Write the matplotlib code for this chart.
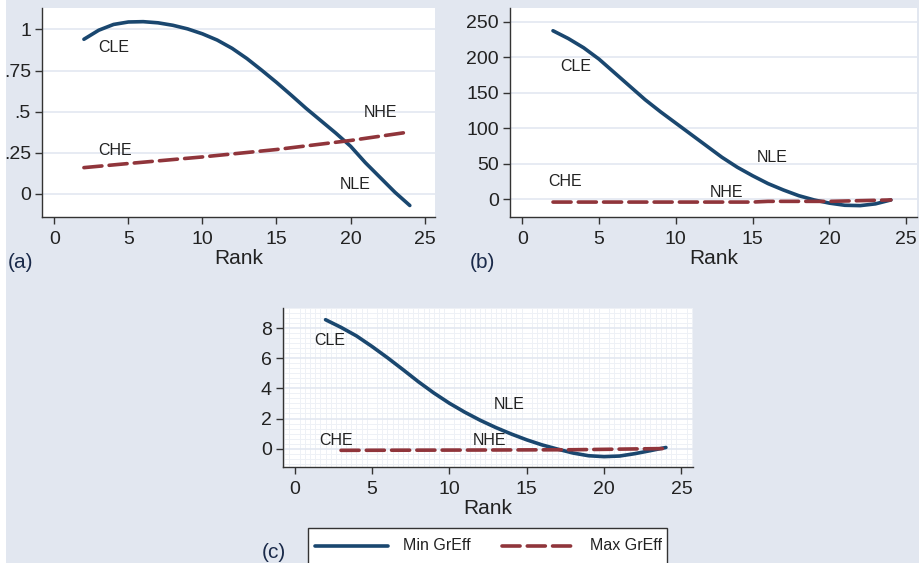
import numpy as np
import matplotlib.pyplot as plt
from matplotlib.ticker import MultipleLocator
from matplotlib.lines import Line2D
from matplotlib.patches import Rectangle

plt.rcParams['font.family'] = ['Liberation Sans', 'DejaVu Sans']

# panel (a)
rank_a_min = list(range(2, 25))
min_a = [0.94, 0.995, 1.03, 1.045, 1.047, 1.04, 1.025, 1.003, 0.973, 0.935, 0.885,
         0.823, 0.752, 0.678, 0.6, 0.52, 0.445, 0.37, 0.29, 0.19, 0.1, 0.01, -0.07]
rank_a_max = [2, 5, 10, 15, 20, 24]
max_a = [0.16, 0.185, 0.225, 0.27, 0.325, 0.377]

# panel (b)
rank_b_min = list(range(2, 25))
min_b = [237, 226, 213, 197, 178, 159, 140, 123, 107, 91, 75, 59, 45, 33, 22, 13, 5,
         -1, -5.5, -8.5, -9, -6.5, -1]
rank_b_max = [2, 10, 15, 16, 20, 24]
max_b = [-4, -4, -4, -3, -3, -1]

# panel (c)
rank_c_min = list(range(2, 25))
min_c = [8.58, 8.07, 7.5, 6.8, 6.05, 5.26, 4.45, 3.7, 3.02, 2.42, 1.88, 1.4, 0.97, 0.58,
         0.24, -0.04, -0.3, -0.48, -0.54, -0.5, -0.34, -0.14, 0.07]
rank_c_max = [3, 12, 18, 24]
max_c = [-0.12, -0.1, -0.08, 0.0]

labels_a = [('CLE', 3.0, 0.89), ('CHE', 3.0, 0.265), ('NHE', 20.9, 0.495), ('NLE', 19.3, 0.057)]
labels_b = [('CLE', 2.45, 187), ('CHE', 1.7, 25), ('NLE', 15.25, 58), ('NHE', 12.2, 9)]
labels_c = [('CLE', 1.27, 7.2), ('CHE', 1.6, 0.55), ('NLE', 12.9, 2.9), ('NHE', 11.5, 0.55)]

navy = '#1a476f'
maroon = '#90353b'
bg = '#e2e7f0'
W, H = 919, 563

fig = plt.figure(figsize=(W / 100, H / 100), dpi=100, facecolor=bg)
fig.patches.append(Rectangle((0, 0), 6 / W, 1, transform=fig.transFigure,
                             facecolor='white', edgecolor='none', zorder=0))


def make_ax(l, r, t, b):
    return fig.add_axes([l / W, 1 - b / H, (r - l) / W, (b - t) / H])


def style(ax, xlim, ylim, yticks, yticklabels, minor=False):
    ax.set_xlim(*xlim)
    ax.set_ylim(*ylim)
    ax.set_xticks([0, 5, 10, 15, 20, 25])
    ax.set_yticks(yticks)
    ax.set_yticklabels(yticklabels)
    for s in ['top', 'right']:
        ax.spines[s].set_visible(False)
    for s in ['left', 'bottom']:
        ax.spines[s].set_color('#333333')
        ax.spines[s].set_linewidth(1.0)
    ax.tick_params(axis='both', direction='out', length=5, width=1, color='#333333',
                   labelsize=14, labelcolor='#222222')
    ax.tick_params(axis='x', pad=5)
    ax.tick_params(axis='y', pad=3)
    ax.grid(True, axis='y', color='#e3e8f1', linewidth=1.2)
    if minor:
        ax.xaxis.set_minor_locator(MultipleLocator(1 / 3))
        ax.yaxis.set_minor_locator(MultipleLocator(1 / 3))
        ax.grid(True, which='minor', axis='both', color='#eef1f6', linewidth=0.7)
        ax.tick_params(which='minor', length=0)
    ax.set_axisbelow(True)
    ax.set_xlabel('Rank', fontsize=15, color='#222222', labelpad=1)


def draw(ax, rmin, vmin, rmax, vmax, labels):
    ax.plot(rmin, vmin, color=navy, lw=2.6, solid_capstyle='round')
    ax.plot(rmax, vmax, color=maroon, lw=2.6, dashes=(5, 2), dash_capstyle='round')
    for txt, x, y in labels:
        ax.text(x, y, txt, fontsize=11.5, color='#222222', ha='left', va='center')


ax_a = make_ax(42, 435, 8, 217)
draw(ax_a, rank_a_min, min_a, rank_a_max, max_a, labels_a)
style(ax_a, (-0.83, 25.7), (-0.14, 1.13), [0, 0.25, 0.5, 0.75, 1], ['0', '.25', '.5', '.75', '1'])

ax_b = make_ax(510, 917, 8, 217)
draw(ax_b, rank_b_min, min_b, rank_b_max, max_b, labels_b)
style(ax_b, (-0.8, 25.7), (-25, 269), [0, 50, 100, 150, 200, 250], ['0', '50', '100', '150', '200', '250'])

ax_c = make_ax(283, 693, 308, 467)
draw(ax_c, rank_c_min, min_c, rank_c_max, max_c, labels_c)
style(ax_c, (-0.75, 25.75), (-1.23, 9.36), [0, 2, 4, 6, 8], ['0', '2', '4', '6', '8'], minor=True)

fig.text(8 / W, 1 - 263 / H, '(a)', fontsize=15, color='#1a2a4a', va='center')
fig.text(470 / W, 1 - 263 / H, '(b)', fontsize=15, color='#1a2a4a', va='center')
fig.text(262 / W, 1 - 552 / H, '(c)', fontsize=15, color='#1a2a4a', va='center')

# legend box (cut by bottom edge)
fig.patches.append(Rectangle((308 / W, -0.02), (667 - 308) / W, (563 - 528) / H + 0.02,
                             transform=fig.transFigure, facecolor='white',
                             edgecolor='#333333', linewidth=1.0, zorder=1))
ly = 1 - 546 / H
fig.lines.append(Line2D([315 / W, 388 / W], [ly, ly], transform=fig.transFigure,
                        color=navy, lw=2.6, solid_capstyle='round', zorder=2))
fig.text(403 / W, ly, 'Min GrEff', fontsize=11.5, color='#222222', va='center', zorder=3)
fig.lines.append(Line2D([502 / W, 575 / W], [ly, ly], transform=fig.transFigure,
                        color=maroon, lw=2.6, dashes=(5, 2), dash_capstyle='round', zorder=2))
fig.text(590 / W, ly, 'Max GrEff', fontsize=11.5, color='#222222', va='center', zorder=3)

fig.savefig('out.png', dpi=100, facecolor=bg)
